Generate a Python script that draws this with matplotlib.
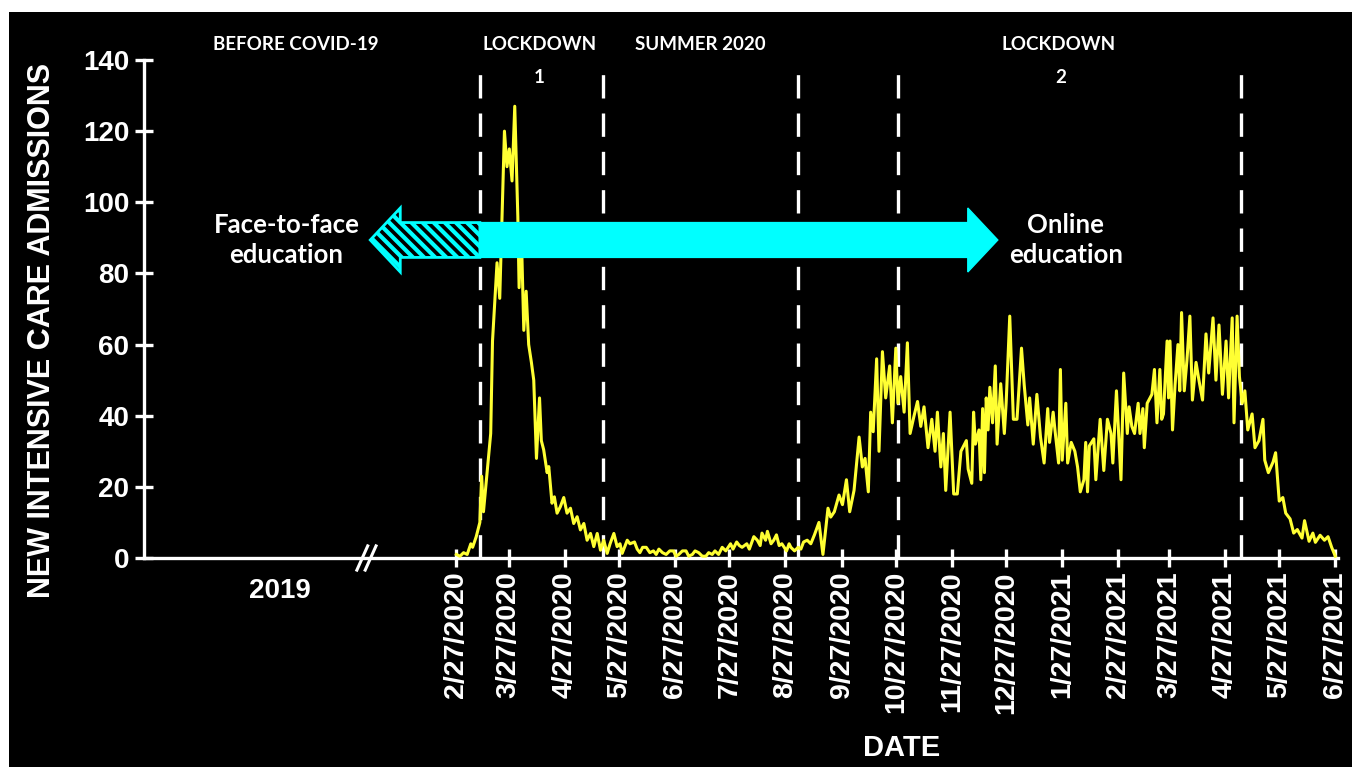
import matplotlib
matplotlib.use("Agg")
import matplotlib.pyplot as plt
import matplotlib.dates as mdates
from matplotlib.patches import Polygon, Rectangle
import numpy as np
import pandas as pd

# ---------------- data ----------------
START_DATE = "2020-02-27"

# days since START_DATE
day_offsets = [
    0, 2, 4, 6, 8, 9, 11, 13, 14, 15, 17, 19, 20, 22.5, 24, 25.5, 26.6, 28, 29.3, 30.8,
    32.3, 34, 34.7, 35.8, 37.3, 38.6, 40, 41.5, 42.8, 44.3, 46, 47, 48.3, 50.2, 51.1, 52.9,
    54.2, 55.7, 57.5, 59.4, 61.2, 63.1, 64.9, 66.8, 68.6, 70.5, 72.3, 74.2, 76, 77.9, 79.7,
    81.5, 83.4, 85, 87.1, 88.9, 90.5, 91.7, 94.5,
    96, 98.5, 100, 101.5, 103, 105, 107, 109, 110.5, 112, 114, 116, 118, 120, 121.5, 123,
    125, 127, 128.5, 130.5, 132, 134, 136, 138, 139.5, 141.5, 143, 145, 147, 149, 151.6,
    153, 155, 156.5, 158, 160.6, 162, 164.5, 166.4, 168, 169, 171, 172, 174, 175.5, 177,
    178.5, 180, 182.6, 184, 185, 187, 189, 190.5, 192, 194,
    196, 198, 200.5, 202.7, 205.5, 207, 209, 211.6, 213.5, 215.7, 217.5, 219.9, 222.7,
    224.5, 226, 227.8, 229.1, 230.5, 232.4, 233.7, 235.6, 237.4, 239.6, 241.1, 243, 244.2,
    245.7, 247.6, 249.4, 250.9, 253.1, 255, 256.8, 258.6, 260.8, 262.9, 264.7, 266, 267.9,
    269.3, 270.6, 273,
    275, 277, 279, 282, 283, 285, 286, 287, 289, 290, 291, 292, 293, 294, 295, 296.5, 298,
    299, 301, 303, 304, 306, 308, 310, 312.5, 314, 316, 317, 319, 321, 323, 325, 327, 328,
    330, 331, 333, 334, 335, 337, 338, 340, 342, 343.5, 345, 347, 348, 349, 350, 352.5,
    353.6, 356, 358, 360, 362, 363, 365, 367.5,
    369, 371, 372, 373.5, 375, 377, 378, 379.6, 380.4, 382, 384.6, 386, 387.4, 389, 390,
    391, 393, 393.8, 394.6, 396, 397.4, 399, 400, 401, 402.5, 404, 405.6, 407, 409, 410.6,
    412.6, 414.5, 416, 418.4, 420, 421.7, 423.6, 425.6, 427, 429, 430, 431.7, 433, 434.5,
    436, 437.6,
    440, 441.6, 443.8, 446, 447, 449, 451.6, 453, 455, 457, 458.6, 461, 463, 465, 467.6,
    469, 471.5, 473.6, 475, 477.6, 480, 482, 484, 486,
]

admissions = [
    1, 0.5, 1.5, 1, 4, 3, 6, 10, 23, 13, 24, 35, 61, 83, 73, 100, 120, 110, 115, 106,
    127, 96, 76, 94, 64, 75, 60, 55, 50, 28, 45, 33, 30.4, 24, 25.7, 15.4,
    17.2, 12.6, 14.4, 17, 12.6, 14, 9.7, 11.6, 7.9, 9.7, 5, 6.9, 3.2, 6.9, 2.2,
    5, 1.3, 4, 6.9, 3.2, 4, 1.3, 5,
    4, 4.5, 2.5, 1.5, 3, 3, 1.5, 2, 1, 2.5, 1.5, 1, 2, 2, 0.5, 1,
    2, 2, 0.5, 1, 2, 1.5, 0.5, 0.5, 1.5, 1, 2, 1, 3, 2, 4,
    2.5, 4.5, 3.5, 3, 4, 2.5, 6, 5, 3.5, 7, 5, 7.5, 4, 5, 6.5,
    3.5, 4, 2, 4, 3, 2, 3, 2.5, 4.5, 5,
    4, 6.5, 10, 1, 14, 11.5, 13, 17.7, 15, 22, 13, 19, 34,
    25.6, 28, 18.6, 41, 35.5, 56, 30, 58, 45, 54, 38, 59, 43.5,
    51, 41, 60.5, 35, 40, 44, 37, 42.5, 31, 39, 30, 41, 25.6,
    35, 19, 41,
    18, 18, 30, 33, 25, 21, 41, 32, 36, 22, 42, 24, 45, 36, 48, 38, 54,
    32, 49, 35, 43.5, 68, 39, 39, 59, 48.6, 37.4, 45, 32, 46, 34, 26.7, 42, 32.5,
    41, 36, 26.7, 53, 27.5, 43.5, 26.7, 32.5, 30, 25.6, 18.6, 22, 32.5, 18.6, 31.5, 33.5,
    22, 39, 24.6, 39, 35, 26.7, 47, 22,
    52, 35, 42.5, 37, 35, 43.5, 35, 42, 31, 43.5, 46, 53, 38, 53, 39,
    40.5, 61, 45, 61, 36, 48.6, 60, 47, 69, 47, 55.7, 68, 44.4, 55, 50,
    44.4, 63, 52, 67.5, 50, 65.5, 46, 61, 45, 67.5, 38, 68, 51, 43.5,
    47, 36,
    40.5, 31, 33, 39, 27.5, 24, 27, 29.6, 16, 17, 12.6, 11, 7, 8, 5.6,
    10.5, 4.7, 7, 4.4, 6.4, 5, 6, 3, 0.5,
]

tick_labels = [
    "2/27/2020", "3/27/2020", "4/27/2020", "5/27/2020", "6/27/2020", "7/27/2020",
    "8/27/2020", "9/27/2020", "10/27/2020", "11/27/2020", "12/27/2020", "1/27/2021",
    "2/27/2021", "3/27/2021", "4/27/2021", "5/27/2021", "6/27/2021",
]
y_ticks = [0, 20, 40, 60, 80, 100, 120, 140]

phase_dates = ["2020-03-11", "2020-05-18", "2020-09-03", "2020-10-28", "2021-05-06"]

# ---------------- styling ----------------
BG = "black"
FG = "white"
LINE_COLOR = "#FFFF33"
CYAN = "#00FFFF"
TICK_FONT = "Liberation Sans"
CAL_FONT = "Lato"

plt.rcParams["font.family"] = ["Liberation Sans", "DejaVu Sans"]
plt.rcParams["hatch.linewidth"] = 3.0

fig = plt.figure(figsize=(13.52, 7.67), dpi=100, facecolor="white")
W, H = 1352, 767
fig.patches.append(Rectangle((9 / W, 0), 1 - 9 / W, 1 - 12 / H,
                             transform=fig.transFigure, facecolor=BG,
                             edgecolor="none", zorder=-10))

ax = fig.add_axes([144 / W, (H - 558) / H, (1338 - 144) / W, (558 - 60) / H])
ax.set_facecolor("none")

t0 = mdates.date2num(pd.Timestamp(START_DATE))
x = t0 + np.asarray(day_offsets, dtype=float)
y = np.asarray(admissions, dtype=float)

ax.plot(x, y, color=LINE_COLOR, lw=2.2, zorder=3, clip_on=False)

ax.set_ylim(0, 140)
ax.set_xlim(t0 - 172.7, t0 + 487.5)

# spines
for s in ["top", "right"]:
    ax.spines[s].set_visible(False)
for s in ["left", "bottom"]:
    ax.spines[s].set_color(FG)
    ax.spines[s].set_linewidth(2.4)

tick_pos = [mdates.date2num(pd.to_datetime(l, format="%m/%d/%Y")) for l in tick_labels]
ax.set_xticks(tick_pos)
ax.set_xticklabels(tick_labels, rotation=90, fontsize=20.5, fontweight="bold",
                   color=FG, family=TICK_FONT, va="top", ha="center")
ax.set_yticks(y_ticks)
ax.set_yticklabels([str(v) for v in y_ticks], fontsize=20, fontweight="bold",
                   color=FG, family=TICK_FONT)
ax.tick_params(axis="x", direction="inout", length=13, width=2.4, color=FG, pad=3)
ax.tick_params(axis="y", direction="inout", length=13, width=2.4, color=FG, pad=4)

# phase dashed lines
for d in phase_dates:
    xd = mdates.date2num(pd.Timestamp(d))
    ax.plot([xd, xd], [0, 140], color=FG, lw=2.4, ls=(0, (7, 4.5)), zorder=2,
            clip_on=False)

# break mark and 2019 label
xb = t0 - 52
for off in (0, 4.6):
    ax.plot([xb - 3 + off, xb + 3 + off], [-3.4, 3.4], color=FG, lw=2.2,
            clip_on=False, zorder=4)
ax.text(t0 - 97.4, -9.3, "2019", ha="center", va="center", fontsize=20,
        fontweight="bold", color=FG, family=TICK_FONT, clip_on=False)

# period labels on top
def dnum(s):
    return mdates.date2num(pd.Timestamp(s))

top_kw = dict(ha="center", va="center", fontsize=13.5, color=FG, family=CAL_FONT,
              fontweight="bold", clip_on=False)
ax.text(t0 - 89, 144.3, "BEFORE COVID-19", **top_kw)
ax.text(t0 + 46, 144.3, "LOCKDOWN", **top_kw)
ax.text(t0 + 46, 135, "1", **top_kw)
ax.text(t0 + 135, 144.3, "SUMMER 2020", **top_kw)
ax.text(t0 + 333, 144.3, "LOCKDOWN", **top_kw)
ax.text(t0 + 334, 135, "2", **top_kw)

# education arrow
arrow_left = t0 - 47.6
arrow_right = t0 + 299.4
split = dnum(phase_dates[0])
yc, sh, hh = 89.4, 4.9, 9.0
head = 16.6
left_poly = [(arrow_left, yc), (arrow_left + head, yc + hh), (arrow_left + head, yc + sh),
             (split, yc + sh), (split, yc - sh), (arrow_left + head, yc - sh),
             (arrow_left + head, yc - hh)]
right_poly = [(split, yc + sh), (arrow_right - head, yc + sh), (arrow_right - head, yc + hh),
              (arrow_right, yc), (arrow_right - head, yc - hh), (arrow_right - head, yc - sh),
              (split, yc - sh)]
ax.add_patch(Polygon(left_poly, closed=True, facecolor=BG, edgecolor=CYAN, lw=2,
                     hatch="\\\\\\", zorder=5, clip_on=False))
ax.add_patch(Polygon(right_poly, closed=True, facecolor=CYAN, edgecolor=CYAN, lw=1,
                     zorder=6, clip_on=False))

edu_kw = dict(ha="center", va="center", fontsize=18.5, color=FG, family=CAL_FONT,
              fontweight="bold", linespacing=1.3, clip_on=False)
ax.text(t0 - 94, 89.4, "Face-to-face\neducation", **edu_kw)
ax.text(t0 + 337, 89.4, "Online\neducation", **edu_kw)

# axis titles
fig.text(42 / W, 1 - 330 / H, "NEW INTENSIVE CARE ADMISSIONS", rotation=90,
         ha="center", va="center", fontsize=22, fontweight="bold", color=FG,
         family=TICK_FONT)
fig.text(902 / W, 1 - 748 / H, "DATE", ha="center", va="center", fontsize=21,
         fontweight="bold", color=FG, family=TICK_FONT)

fig.savefig("out.png", dpi=100, facecolor=fig.get_facecolor())
